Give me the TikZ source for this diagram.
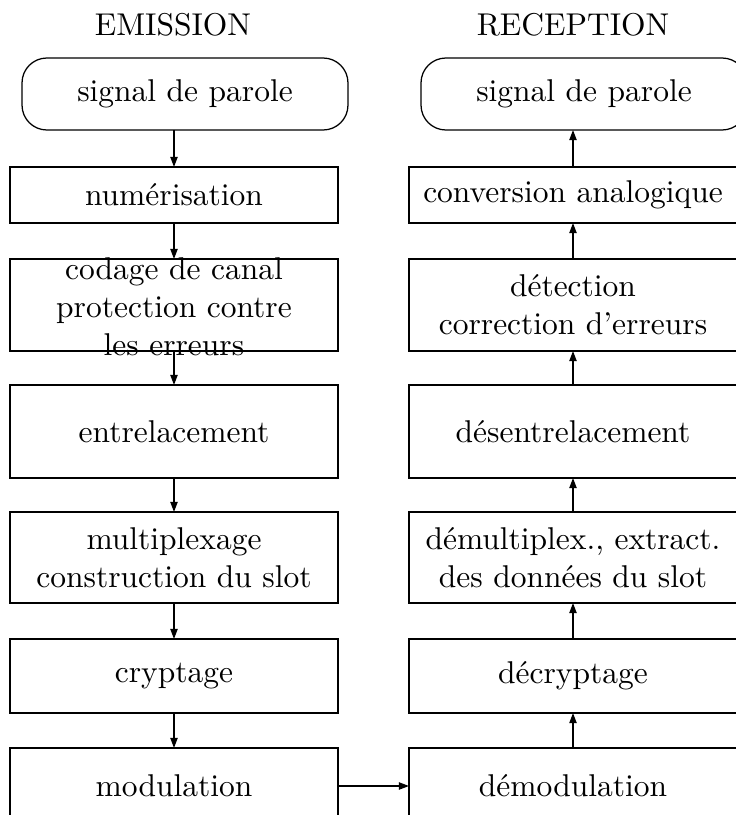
\documentclass[tikz,border=0pt]{standalone}
\usetikzlibrary{arrows.meta}
\begin{document}
\begin{tikzpicture}[x=0.3175pt,y=-0.3175pt,
  title/.style={inner sep=0pt},
  terminal/.style={draw, line width=0.4pt, rounded corners=7.9pt,
    minimum width=103.5pt, minimum height=22.86pt, inner sep=0pt, outer sep=0pt},
  stage/.style={draw, line width=0.5pt, minimum width=104.14pt,
    inner sep=0pt, outer sep=0pt, align=center},
  label text/.style={align=center, inner sep=0pt},
  flow/.style={line width=0.45pt, -{Triangle[length=3.2pt,width=2.3pt]}}]
\useasboundingbox (0,0) rectangle (736,815);
\clip (0,0) rectangle (736,815);

% column headings
\node[title] (tE) at (173,25) {EMISSION};
\node[title] (tR) at (573,25) {RECEPTION};

% end points of both chains
\node[terminal] (sE) at (185,94) {signal de parole};
\node[terminal] (sR) at (584,94) {signal de parole};

% transmitter chain
\node[stage, minimum height=17.78pt] (e1) at (174,195) {numérisation};
\node[stage, minimum height=29.21pt] (e2) at (174,305) {};
\node[label text] (e2t) at (174,307) {codage de canal\\protection contre\\les erreurs};
\node[stage, minimum height=29.53pt] (e3) at (174,431.5) {entrelacement};
\node[stage, minimum height=28.89pt] (e4) at (174,557.5) {multiplexage\\construction du slot};
\node[stage, minimum height=23.5pt] (e5) at (174,676) {cryptage};
\node[stage, minimum height=24.13pt] (e6) at (174,786) {modulation};

% receiver chain
\node[stage, minimum height=17.78pt] (r1) at (573,195) {conversion analogique};
\node[stage, minimum height=29.21pt] (r2) at (573,305) {détection\\correction d'erreurs};
\node[stage, minimum height=29.53pt] (r3) at (573,431.5) {désentrelacement};
\node[stage, minimum height=28.89pt] (r4) at (573,557.5) {démultiplex., extract.\\des données du slot};
\node[stage, minimum height=23.5pt] (r5) at (573,676) {décryptage};
\node[stage, minimum height=24.13pt] (r6) at (573,786) {démodulation};

% transmitter flow (downwards)
\draw[flow] (sE.south -| e1.north) -- (e1.north);
\draw[flow] (e1.south) -- (e2.north);
\draw[flow] (e2.south) -- (e3.north);
\draw[flow] (e3.south) -- (e4.north);
\draw[flow] (e4.south) -- (e5.north);
\draw[flow] (e5.south) -- (e6.north);

% channel
\draw[flow] (e6.east) -- (r6.west);

% receiver flow (upwards)
\draw[flow] (r6.north) -- (r5.south);
\draw[flow] (r5.north) -- (r4.south);
\draw[flow] (r4.north) -- (r3.south);
\draw[flow] (r3.north) -- (r2.south);
\draw[flow] (r2.north) -- (r1.south);
\draw[flow] (r1.north) -- (r1.north |- sR.south);
\end{tikzpicture}
\end{document}
